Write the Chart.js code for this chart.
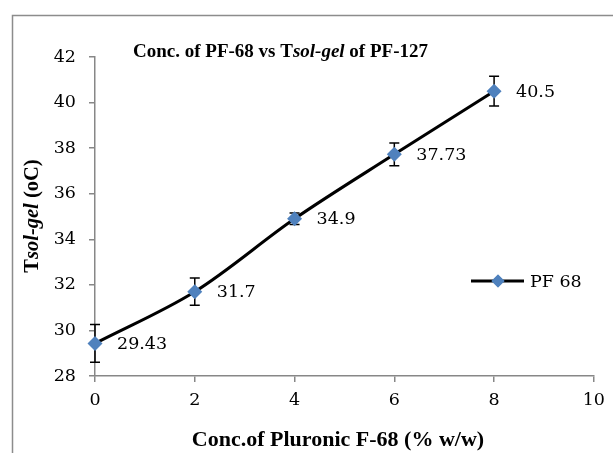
<!DOCTYPE html>
<html>
<head>
<meta charset="utf-8">
<script src="https://cdn.jsdelivr.net/npm/chart.js@4.4.1/dist/chart.umd.min.js"></script>
<style>
html,body{margin:0;padding:0;background:#fff;}
#wrap{position:relative;width:613px;height:453px;}
</style>
</head>
<body>
<div id="wrap"><canvas id="c" width="613" height="453"></canvas></div>
<script>
// ---- data ----
const concentrations = [0, 2, 4, 6, 8];
const tSolGel = [29.43, 31.7, 34.9, 37.73, 40.5];
const errors = [0.83, 0.6, 0.25, 0.5, 0.65];
const dataLabels = ['29.43', '31.7', '34.9', '37.73', '40.5'];
const seriesName = 'PF 68';
const xTicks = [0, 2, 4, 6, 8, 10];
const yTicks = [28, 30, 32, 34, 36, 38, 40, 42];

const NUM_FONT = '17.5px "DejaVu Serif"';
const TITLE_FAMILY = '"Liberation Serif"';
const GRAY = '#878787';
const BLUE = '#4F81BD';

function drawRich(ctx, segs, x, y, align) {
  let total = 0;
  segs.forEach(s => { ctx.font = s.font; total += ctx.measureText(s.text).width; });
  let cx = align === 'center' ? x - total / 2 : x;
  ctx.textBaseline = 'middle';
  ctx.textAlign = 'left';
  segs.forEach(s => { ctx.font = s.font; ctx.fillText(s.text, cx, y); cx += ctx.measureText(s.text).width; });
}

const decor = {
  id: 'decor',
  beforeDraw(chart) {
    const ctx = chart.ctx;
    ctx.save();
    ctx.fillStyle = '#fff';
    ctx.fillRect(0, 0, chart.width, chart.height);
    ctx.strokeStyle = '#8c8c8c';
    ctx.lineWidth = 1.5;
    ctx.beginPath();
    ctx.moveTo(12.5, 453);
    ctx.lineTo(12.5, 15.5);
    ctx.lineTo(613, 15.5);
    ctx.stroke();
    ctx.restore();
  },
  beforeDatasetsDraw(chart) {
    // error bars (under the line and markers)
    const ctx = chart.ctx, xs = chart.scales.x, ys = chart.scales.y;
    ctx.save();
    ctx.strokeStyle = '#000';
    ctx.lineWidth = 1.5;
    concentrations.forEach((c, i) => {
      const px = xs.getPixelForValue(c);
      const top = ys.getPixelForValue(tSolGel[i] + errors[i]);
      const bot = ys.getPixelForValue(tSolGel[i] - errors[i]);
      ctx.beginPath();
      ctx.moveTo(px, top); ctx.lineTo(px, bot);
      ctx.moveTo(px - 5, top); ctx.lineTo(px + 5, top);
      ctx.moveTo(px - 5, bot); ctx.lineTo(px + 5, bot);
      ctx.stroke();
    });
    ctx.restore();
  },
  afterDraw(chart) {
    const ctx = chart.ctx, xs = chart.scales.x, ys = chart.scales.y;
    ctx.save();
    ctx.fillStyle = '#000';
    // data labels
    ctx.font = NUM_FONT;
    ctx.textAlign = 'left';
    ctx.textBaseline = 'middle';
    concentrations.forEach((c, i) => {
      ctx.fillText(dataLabels[i], xs.getPixelForValue(c) + 22, ys.getPixelForValue(tSolGel[i]) + 1);
    });
    // chart title
    const tb = 'bold 19px ' + TITLE_FAMILY, ti = 'italic bold 19px ' + TITLE_FAMILY;
    drawRich(ctx, [
      {text: 'Conc. of PF-68 vs T', font: tb},
      {text: 'sol-gel', font: ti},
      {text: ' of PF-127', font: tb}
    ], 133, 52, 'left');
    // x axis title
    drawRich(ctx, [{text: 'Conc.of Pluronic F-68 (% w/w)', font: 'bold 22px ' + TITLE_FAMILY}], 338, 440, 'center');
    // y axis title
    ctx.save();
    ctx.translate(33, 216);
    ctx.rotate(-Math.PI / 2);
    drawRich(ctx, [
      {text: 'T', font: 'bold 20.5px ' + TITLE_FAMILY},
      {text: 'sol-gel', font: 'italic bold 20.5px ' + TITLE_FAMILY},
      {text: ' (oC)', font: 'bold 20.5px ' + TITLE_FAMILY}
    ], 0, 0, 'center');
    ctx.restore();
    // legend
    const ly = 281;
    ctx.strokeStyle = '#000';
    ctx.lineWidth = 3;
    ctx.beginPath(); ctx.moveTo(471, ly); ctx.lineTo(524, ly); ctx.stroke();
    ctx.fillStyle = BLUE;
    Chart.helpers.drawPoint(ctx, {pointStyle: 'rectRot', radius: 6.5, borderWidth: 0}, 498, ly);
    ctx.fill();
    ctx.fillStyle = '#000';
    ctx.font = NUM_FONT;
    ctx.textAlign = 'left';
    ctx.textBaseline = 'middle';
    ctx.fillText(chart.data.datasets[0].label, 530, ly + 1);
    ctx.restore();
  }
};

new Chart(document.getElementById('c'), {
  type: 'line',
  data: {
    datasets: [{
      label: seriesName,
      data: concentrations.map((c, i) => ({x: c, y: tSolGel[i]})),
      borderColor: '#000',
      borderWidth: 3,
      tension: 0.33,
      pointStyle: 'rectRot',
      pointRadius: 7.5,
      pointBackgroundColor: BLUE,
      pointBorderColor: BLUE,
      pointBorderWidth: 0,
      clip: false
    }]
  },
  options: {
    responsive: false,
    animation: false,
    events: [],
    layout: {padding: {left: 0, top: 57, right: 13, bottom: 0}},
    plugins: {legend: {display: false}, title: {display: false}, tooltip: {enabled: false}},
    scales: {
      x: {
        type: 'linear', min: 0, max: 10,
        afterBuildTicks: s => { s.ticks = xTicks.map(v => ({value: v})); },
        afterFit: s => { s.height = 77; },
        grid: {drawOnChartArea: false, color: GRAY, tickLength: 6, lineWidth: 1.5},
        border: {color: GRAY, width: 1.5},
        ticks: {color: '#000', font: {family: 'DejaVu Serif', size: 17.5}, padding: 8, maxRotation: 0}
      },
      y: {
        min: 28, max: 42,
        afterBuildTicks: s => { s.ticks = yTicks.map(v => ({value: v})); },
        afterFit: s => { s.width = 95; },
        grid: {drawOnChartArea: false, color: GRAY, tickLength: 6, lineWidth: 1.5},
        border: {color: GRAY, width: 1.5},
        ticks: {color: '#000', font: {family: 'DejaVu Serif', size: 17.5}, padding: 13}
      }
    }
  },
  plugins: [decor]
});
</script>
</body>
</html>
